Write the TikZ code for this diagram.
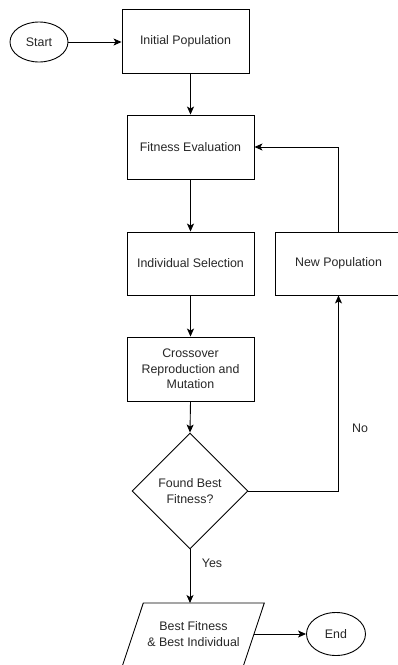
\documentclass[tikz,border=0pt]{standalone}
\usepackage{fontspec}
\setmainfont{Liberation Sans}
\usetikzlibrary{shapes.geometric,arrows.meta}
\begin{document}
\begin{tikzpicture}[x=1pt,y=-1pt,
  every node/.style={font=\fontsize{12.4}{15.5}\selectfont, text=black!85},
  procbox/.style={draw, line width=0.9pt, minimum width=127pt, minimum height=64pt, inner sep=0pt, align=center},
  termbox/.style={draw, ellipse, line width=0.9pt, inner sep=0pt},
  decbox/.style={draw, diamond, line width=0.9pt, inner sep=0pt, minimum width=116pt, minimum height=116pt, align=center},
  plain/.style={inner sep=0pt, align=center},
  arrow/.style={line width=0.9pt, -{Stealth[length=8pt,width=7pt,inset=2pt]}},
  lbl/.style={inner sep=0pt}
]
\useasboundingbox (0,0) rectangle (398,665);
\clip (0,0) rectangle (398,665);

\node[termbox, minimum width=58pt, minimum height=40pt] (start) at (39,42) {Start};
\node[procbox] (init) at (185.5,41) {Initial Population};
\node[procbox] (fit) at (190.5,147) {Fitness Evaluation};
\node[procbox, minimum height=63pt] (sel) at (190.5,263.5) {Individual Selection};
\node[procbox, minimum height=63pt] (newpop) at (338.5,263.5) {New Population};
\node[procbox] (cross) at (190.5,369) {Crossover\\Reproduction and\\Mutation};
\node[decbox] (dia) at (190,491) {Found Best\\Fitness?};
\draw[line width=0.9pt] (143.3,603) -- (264.3,603) -- (243.0,667) -- (122.0,667) -- cycle;
\node[plain] (best) at (193.5,634) {Best Fitness\\\& Best Individual};
\coordinate (bestT) at (190,603);
\coordinate (bestR) at (254,634);
\node[termbox, minimum width=59pt, minimum height=43pt] (end) at (336,634) {End};

\node[lbl] (no) at (360,428) {No};
\node[lbl] (yes) at (212,563) {Yes};

\draw[arrow] (start.east) -- (start.east -| init.west);
\draw[arrow] (fit.north |- init.south) -- (fit.north);
\draw[arrow] (fit.south) -- (sel.north);
\draw[arrow] (sel.south) -- (cross.north);
\draw[arrow] (cross.south) -- (dia.north);
\draw[arrow] (dia.east) -| (newpop.south);
\draw[arrow] (newpop.north) |- (fit.east);
\draw[arrow] (dia.south) -- (bestT);
\draw[arrow] (bestR) -- (end.west);
\end{tikzpicture}
\end{document}
